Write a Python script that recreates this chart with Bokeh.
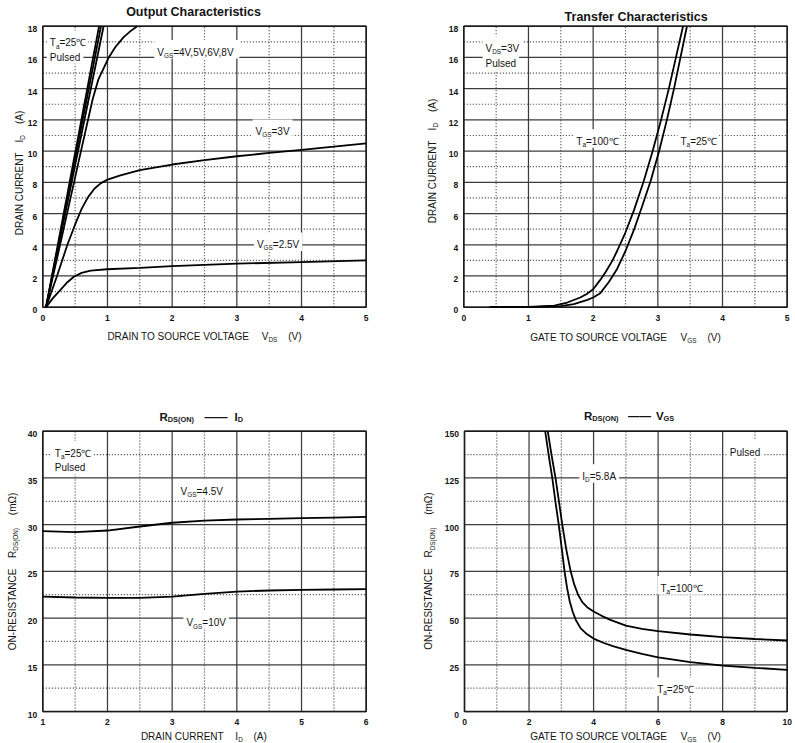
import math
from bokeh.plotting import figure
from bokeh.models import Range1d, Label
from bokeh.layouts import column, row
from bokeh.embed import file_html
from bokeh.resources import INLINE

# ---------------- data ----------------
# Output characteristics (VDS [V], ID [A])
out_vds_8v = [0.05, 0.87]
out_id_8v = [0.0, 18.0]
out_vds_6v = [0.05, 0.90]
out_id_6v = [0.0, 18.0]
out_vds_5v = [0.05, 0.94]
out_id_5v = [0.0, 18.0]
out_vds_4v = [0.05, 0.3, 0.59, 0.77, 0.86, 0.94, 1.02, 1.12, 1.25, 1.36, 1.46]
out_id_4v = [0.0, 4.6, 10.0, 13.3, 14.6, 15.3, 16.0, 16.65, 17.3, 17.7, 18.0]
out_vds_3v = [0.05, 0.22, 0.38, 0.5, 0.6, 0.7, 0.8, 0.9, 1.0, 1.2, 1.5, 2.0, 2.5, 3.0, 3.5, 4.0, 4.5, 5.0]
out_id_3v = [0.0, 2.0, 4.0, 5.3, 6.3, 7.05, 7.6, 7.95, 8.17, 8.45, 8.78, 9.14, 9.42, 9.67, 9.88, 10.08, 10.28, 10.5]
out_vds_25v = [0.05, 0.15, 0.27, 0.38, 0.48, 0.6, 0.74, 0.99, 1.5, 2.0, 3.0, 4.0, 5.0]
out_id_25v = [0.0, 0.55, 1.1, 1.6, 1.95, 2.2, 2.34, 2.43, 2.52, 2.63, 2.79, 2.89, 3.0]

# Transfer characteristics (VGS [V], ID [A])
tr_vgs_100 = [0.4, 1.0, 1.4, 1.6, 1.8, 1.9, 2.0, 2.11, 2.2, 2.3, 2.37, 2.5, 2.63, 2.78, 2.92, 3.05, 3.17, 3.28, 3.39]
tr_id_100 = [0.0, 0.02, 0.1, 0.3, 0.62, 0.85, 1.15, 1.75, 2.3, 3.0, 3.6, 4.8, 6.2, 8.05, 10.0, 12.0, 14.0, 16.0, 18.0]
tr_vgs_25 = [0.4, 1.0, 1.5, 1.7, 1.9, 2.0, 2.11, 2.24, 2.37, 2.5, 2.63, 2.76, 2.89, 3.02, 3.14, 3.25, 3.35, 3.45]
tr_id_25 = [0.0, 0.01, 0.07, 0.2, 0.45, 0.62, 0.9, 1.6, 2.45, 3.6, 4.95, 6.5, 8.1, 10.0, 12.0, 14.0, 16.0, 18.0]

# RDS(ON) vs ID (ID [A], RDS [mOhm])
rd_id = [1.0, 1.5, 2.0, 2.5, 3.0, 3.5, 4.0, 4.5, 5.0, 5.5, 6.0]
rd_45v = [29.3, 29.2, 29.37, 29.8, 30.2, 30.42, 30.55, 30.62, 30.69, 30.76, 30.83]
rd_10v = [22.3, 22.2, 22.16, 22.16, 22.3, 22.6, 22.84, 22.95, 23.02, 23.06, 23.09]

# RDS(ON) vs VGS (VGS [V], RDS [mOhm])
rv_vgs_100 = [2.58, 2.7, 2.82, 2.93, 3.03, 3.15, 3.29, 3.4, 3.52, 3.65, 3.8, 4.0, 4.25, 4.5, 5.0, 5.5, 6.0, 7.0, 8.0, 9.0, 10.0]
rv_r_100 = [150, 137, 125, 112, 100, 87, 75, 68, 62.5, 58.5, 55.8, 53.5, 51.2, 49.2, 46, 44.2, 43, 41.2, 39.8, 38.8, 38.0]
rv_vgs_25 = [2.5, 2.61, 2.72, 2.82, 2.92, 3.03, 3.1, 3.18, 3.26, 3.35, 3.45, 3.6, 3.8, 4.0, 4.3, 4.6, 5.0, 5.5, 6.0, 7.0, 8.0, 9.0, 10.0]
rv_r_25 = [150, 137, 125, 112, 100, 85, 75, 66, 59, 53.5, 49, 44.5, 41.3, 39, 36.8, 35, 33, 30.8, 29, 26.4, 24.6, 23.4, 22.3]

# ticks
out_xt = [0, 1, 2, 3, 4, 5]
out_xm = [0.5, 1.5, 2.5, 3.5, 4.5]
out_yt = [0, 2, 4, 6, 8, 10, 12, 14, 16, 18]
out_ym = [1, 3, 5, 7, 9, 11, 13, 15, 17]
rd_xt = [1, 2, 3, 4, 5, 6]
rd_xm = [1.5, 2.5, 3.5, 4.5, 5.5]
rd_yt = [10, 15, 20, 25, 30, 35, 40]
rd_ym = [12.5, 17.5, 22.5, 27.5, 32.5, 37.5]
rv_xt = [0, 2, 4, 6, 8, 10]
rv_xm = [1, 3, 5, 7, 9]
rv_yt = [0, 25, 50, 75, 100, 125, 150]
rv_ym = [12.5, 37.5, 62.5, 87.5, 112.5, 137.5]

# ---------------- helpers ----------------
FONT = "Liberation Sans"
TXT = "#141414"
GRID = "#3c3c3c"

AW = {' ': 278, '(': 333, ')': 333, ',': 278, '-': 333, '.': 278, '=': 584,
      'A': 667, 'C': 722, 'D': 722, 'E': 667, 'G': 778, 'I': 278, 'L': 556, 'N': 722,
      'O': 778, 'R': 722, 'S': 667, 'T': 611, 'U': 722, 'V': 667, 'P': 667,
      'a': 556, 'd': 556, 'e': 556, 'l': 222, 'm': 833, 's': 500, 'u': 556,
      '\u03a9': 768, '\u2103': 880, '\u2014': 1000}
BW = {' ': 278, '(': 333, ')': 333, 'C': 722, 'D': 722, 'G': 778, 'I': 278, 'N': 722,
      'O': 778, 'R': 722, 'S': 667, 'T': 611, 'V': 667,
      'a': 556, 'c': 556, 'e': 556, 'h': 611, 'i': 278, 'n': 611, 'p': 611, 'r': 389,
      's': 556, 't': 333, 'u': 611, 'f': 333, '\u2014': 1000}


def tw(s, size, bold=False):
    tab = BW if bold else AW
    return sum(tab.get(c, 556) for c in s) * size / 1000.0


def rich(p, x, y, parts, size=10, bold=False, angle=0.0, center=False,
         dx=0.0, dy=0.0, bg=None, sub_ratio=0.64, shift_ratio=0.33, labels=None):
    sub = size * sub_ratio
    shift = size * shift_ratio
    items = []
    d = 0.0
    for kind, c in parts:
        if kind == 'g':
            d += c
            continue
        fs = size if kind == 'n' else sub
        items.append((d, kind, c, fs))
        d += tw(c, fs, bold)
    total = d
    start = -total / 2.0 if center else 0.0
    if bg is not None:
        ppx, ppy = bg
        pad = 3
        xc = x + (start + total / 2.0 + dx) / ppx
        yc = y + (size * 0.28 + dy) / ppy
        p.rect(x=[xc], y=[yc], width=[total + 2 * pad], height=[size * 1.25 + 2 * pad],
               width_units="screen", height_units="screen",
               fill_color="white", line_color=None)
    for d0, kind, c, fs in items:
        off = start + d0
        low = shift if kind == 's' else 0.0
        if angle == 0:
            xo, yo = off + dx, -low + dy
        else:
            xo, yo = low + dx, off + dy
        lab = Label(x=x, y=y, x_offset=xo, y_offset=yo, text=c, angle=angle,
                    text_font=FONT, text_font_size=f"{fs:.2f}px",
                    text_font_style="bold" if bold else "normal",
                    text_color=TXT, text_align="left", text_baseline="alphabetic")
        if labels is None:
            p.add_layout(lab)
        else:
            labels.append(lab)


def make_panel(W, H, frame, data, xt, xm, yt, ym):
    """frame = (left, right, top, bottom) in canvas pixels; data = (x0, x1, y0, y1)."""
    l, r, t, b = frame
    x0, x1, y0, y1 = data
    ppx = (r - l) / (x1 - x0)
    ppy = (b - t) / (y1 - y0)
    xr = Range1d(x0 - l / ppx, x1 + (W - r) / ppx)
    yr = Range1d(y0 - (H - b) / ppy, y1 + t / ppy)
    p = figure(width=W, height=H, x_range=xr, y_range=yr, output_backend="svg",
               toolbar_location=None, tools="", x_axis_location=None, y_axis_location=None)
    p.min_border = 0
    p.min_border_left = 0
    p.min_border_right = 0
    p.min_border_top = 0
    p.min_border_bottom = 0
    p.grid.grid_line_color = None
    p.outline_line_color = None
    p.background_fill_color = "white"
    p.border_fill_color = "white"
    # minor (dotted) grid
    p.segment(x0=xm, y0=[y0] * len(xm), x1=xm, y1=[y1] * len(xm),
              line_color=GRID, line_width=1.2, line_dash="1 2")
    p.segment(x0=[x0] * len(ym), y0=ym, x1=[x1] * len(ym), y1=ym,
              line_color=GRID, line_width=1.2, line_dash="1 2")
    # major (solid) grid
    p.segment(x0=xt, y0=[y0] * len(xt), x1=xt, y1=[y1] * len(xt),
              line_color=GRID, line_width=1.25)
    p.segment(x0=[x0] * len(yt), y0=yt, x1=[x1] * len(yt), y1=yt,
              line_color=GRID, line_width=1.25)
    # frame
    p.quad(left=[x0], right=[x1], bottom=[y0], top=[y1], fill_color=None,
           line_color="#1a1a1a", line_width=1.5)
    # tick labels
    for v in xt:
        p.add_layout(Label(x=v, y=y0, y_offset=-10.6, text=str(v), text_font=FONT,
                           text_font_size="8.5px", text_font_style="bold", text_color=TXT,
                           text_align="center", text_baseline="alphabetic"))
    for v in yt:
        p.add_layout(Label(x=x0, y=v, x_offset=-5.5, y_offset=-3.0, text=str(v), text_font=FONT,
                           text_font_size="8.5px", text_font_style="bold", text_color=TXT,
                           text_align="right", text_baseline="alphabetic"))
    return p, (ppx, ppy)


LW = 1.8
PI2 = math.pi / 2

# ---------------- panel 1: output characteristics ----------------
p1, pp1 = make_panel(397, 370, (42.3, 365.7, 25.7, 306.7), (0, 5, 0, 18),
                     out_xt, out_xm, out_yt, out_ym)
L1 = []
rich(p1, 0.108, 16.94, [('n', 'T'), ('s', 'a'), ('n', '=25\u2103')], bg=pp1, labels=L1)
rich(p1, 0.108, 16.02, [('n', 'Pulsed')], bg=pp1, labels=L1)
rich(p1, 1.77, 16.34, [('n', 'V'), ('s', 'GS'), ('n', '=4V,5V,6V,8V')], bg=pp1, labels=L1)
rich(p1, 3.29, 11.25, [('n', 'V'), ('s', 'GS'), ('n', '=3V')], bg=pp1, labels=L1)
rich(p1, 3.31, 4.02, [('n', 'V'), ('s', 'GS'), ('n', '=2.5V')], bg=pp1, labels=L1)
for xs, ys in [(out_vds_8v, out_id_8v), (out_vds_6v, out_id_6v), (out_vds_5v, out_id_5v),
               (out_vds_4v, out_id_4v), (out_vds_3v, out_id_3v), (out_vds_25v, out_id_25v)]:
    p1.line(xs, ys, line_width=LW, line_color="black")
for lab in L1:
    p1.add_layout(lab)
rich(p1, 2.33, 18, [('n', 'Output Characteristics')], size=12.5, bold=True, center=True, dy=14)
rich(p1, 2.5, 0, [('n', 'DRAIN TO SOURCE VOLTAGE'), ('g', 11), ('n', 'V'), ('s', 'DS'), ('g', 11), ('n', '(V)')],
     center=True, dy=-29.3)
rich(p1, 0, 8.6, [('n', 'DRAIN CURRENT'), ('g', 10), ('n', 'I'), ('s', 'D'), ('g', 11), ('n', '(A)')],
     angle=PI2, center=True, dx=-23.3)

# ---------------- panel 2: transfer characteristics ----------------
p2, pp2 = make_panel(398, 370, (66.3, 389.7, 25.7, 306.7), (0, 5, 0, 18),
                     out_xt, out_xm, out_yt, out_ym)
L2 = []
rich(p2, 0.336, 16.59, [('n', 'V'), ('s', 'DS'), ('n', '=3V')], bg=pp2, labels=L2)
rich(p2, 0.336, 15.59, [('n', 'Pulsed')], bg=pp2, labels=L2)
rich(p2, 1.74, 10.63, [('n', 'T'), ('s', 'a'), ('n', '=100\u2103')], bg=pp2, labels=L2)
rich(p2, 3.35, 10.63, [('n', 'T'), ('s', 'a'), ('n', '=25\u2103')], bg=pp2, labels=L2)
p2.line(tr_vgs_100, tr_id_100, line_width=LW, line_color="black")
p2.line(tr_vgs_25, tr_id_25, line_width=LW, line_color="black")
for lab in L2:
    p2.add_layout(lab)
rich(p2, 2.67, 18, [('n', 'Transfer Characteristics')], size=12.5, bold=True, center=True, dy=9.7)
rich(p2, 2.5, 0, [('n', 'GATE TO SOURCE VOLTAGE'), ('g', 11), ('n', 'V'), ('s', 'GS'), ('g', 11), ('n', '(V)')],
     center=True, dy=-30)
rich(p2, 0, 9.37, [('n', 'DRAIN CURRENT'), ('g', 10), ('n', 'I'), ('s', 'D'), ('g', 11), ('n', '(A)')],
     angle=PI2, center=True, dx=-31.6)

# ---------------- panel 3: RDS(ON) vs ID ----------------
p3, pp3 = make_panel(397, 373, (42.3, 365.7, 60.7, 341.0), (1, 6, 10, 40),
                     rd_xt, rd_xm, rd_yt, rd_ym)
L3 = []
rich(p3, 1.186, 37.65, [('n', 'T'), ('s', 'a'), ('n', '=25\u2103')], bg=pp3, labels=L3)
rich(p3, 1.186, 36.08, [('n', 'Pulsed')], bg=pp3, labels=L3)
rich(p3, 3.13, 33.58, [('n', 'V'), ('s', 'GS'), ('n', '=4.5V')], bg=pp3, labels=L3)
rich(p3, 3.22, 19.49, [('n', 'V'), ('s', 'GS'), ('n', '=10V')], bg=pp3, labels=L3)
p3.line(rd_id, rd_45v, line_width=LW, line_color="black")
p3.line(rd_id, rd_10v, line_width=LW, line_color="black")
for lab in L3:
    p3.add_layout(lab)
rich(p3, 3.45, 40, [('n', 'R'), ('s', 'DS(ON)'), ('g', 10.6), ('n', '\u2014\u2014'), ('g', 7), ('n', 'I'), ('s', 'D')],
     size=11.5, bold=True, center=True, dy=14.7, shift_ratio=0.3)
rich(p3, 3.49, 10, [('n', 'DRAIN CURRENT'), ('g', 11.7), ('n', 'I'), ('s', 'D'), ('g', 10.7), ('n', '(A)')],
     center=True, dy=-25.0)
rich(p3, 1, 25.0, [('n', 'ON-RESISTANCE'), ('g', 10), ('n', 'R'), ('s', 'DS(ON)'), ('g', 12.8), ('n', '(m\u03a9)')],
     angle=PI2, center=True, dx=-30.6)

# ---------------- panel 4: RDS(ON) vs VGS ----------------
p4, pp4 = make_panel(398, 373, (67.0, 389.7, 60.7, 341.0), (0, 10, 0, 150),
                     rv_xt, rv_xm, rv_yt, rv_ym)
L4 = []
rich(p4, 8.22, 138.8, [('n', 'Pulsed')], bg=pp4, labels=L4)
rich(p4, 3.65, 125.9, [('n', 'I'), ('s', 'D'), ('n', '=5.8A')], bg=pp4, labels=L4)
rich(p4, 6.07, 66.0, [('n', 'T'), ('s', 'a'), ('n', '=100\u2103')], bg=pp4, labels=L4)
rich(p4, 5.97, 11.8, [('n', 'T'), ('s', 'a'), ('n', '=25\u2103')], bg=pp4, labels=L4)
p4.line(rv_vgs_100, rv_r_100, line_width=LW, line_color="black")
p4.line(rv_vgs_25, rv_r_25, line_width=LW, line_color="black")
for lab in L4:
    p4.add_layout(lab)
rich(p4, 5.1, 150, [('n', 'R'), ('s', 'DS(ON)'), ('g', 9.5), ('n', '\u2014\u2014'), ('g', 5), ('n', 'V'), ('s', 'GS')],
     size=11.5, bold=True, center=True, dy=15.7, shift_ratio=0.3)
rich(p4, 4.99, 0, [('n', 'GATE TO SOURCE VOLTAGE'), ('g', 11), ('n', 'V'), ('s', 'GS'), ('g', 11), ('n', '(V)')],
     center=True, dy=-25.0)
rich(p4, 0, 75.2, [('n', 'ON-RESISTANCE'), ('g', 10), ('n', 'R'), ('s', 'DS(ON)'), ('g', 12.8), ('n', '(m\u03a9)')],
     angle=PI2, center=True, dx=-35.7)

layout = column(row(p1, p2), row(p3, p4))
open("out.html", "w").write(file_html(layout, INLINE))
